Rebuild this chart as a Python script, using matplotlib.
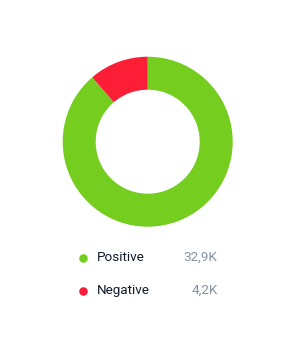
import matplotlib
matplotlib.use("Agg")
import matplotlib.pyplot as plt

labels = ["Positive", "Negative"]
values = [32.9, 4.2]
value_text = ["32,9K", "4,2K"]
colors = ["#74cd1f", "#fb1e36"]

W, H = 289, 345
fig = plt.figure(figsize=(W / 100, H / 100), dpi=100)
plt.rcParams["font.family"] = ["Roboto", "DejaVu Sans"]

# donut
cx, cy, r = 147.7, 141.7, 85
ax = fig.add_axes([(cx - r) / W, (H - cy - r) / H, 2 * r / W, 2 * r / H])
ax.pie(values, colors=colors, startangle=90, counterclock=False,
       radius=1, wedgeprops=dict(width=33 / 85, linewidth=0))
ax.set_xlim(-1, 1)
ax.set_ylim(-1, 1)
ax.set_aspect("equal")
ax.axis("off")

# legend
lx = fig.add_axes([0, 0, 1, 1])
lx.set_xlim(0, W)
lx.set_ylim(H, 0)
lx.axis("off")
for i, (lab, txt, c) in enumerate(zip(labels, value_text, colors)):
    y = 257.5 + i * 33
    lx.scatter([82.5], [y], s=38, color=c, linewidths=0)
    lx.text(97, y, lab, fontsize=9.7, color="#0f1a28", va="center", ha="left")
    lx.text(217.5, y, txt, fontsize=9.7, color="#8493a5", va="center", ha="right")

fig.savefig("out.png", dpi=100)
